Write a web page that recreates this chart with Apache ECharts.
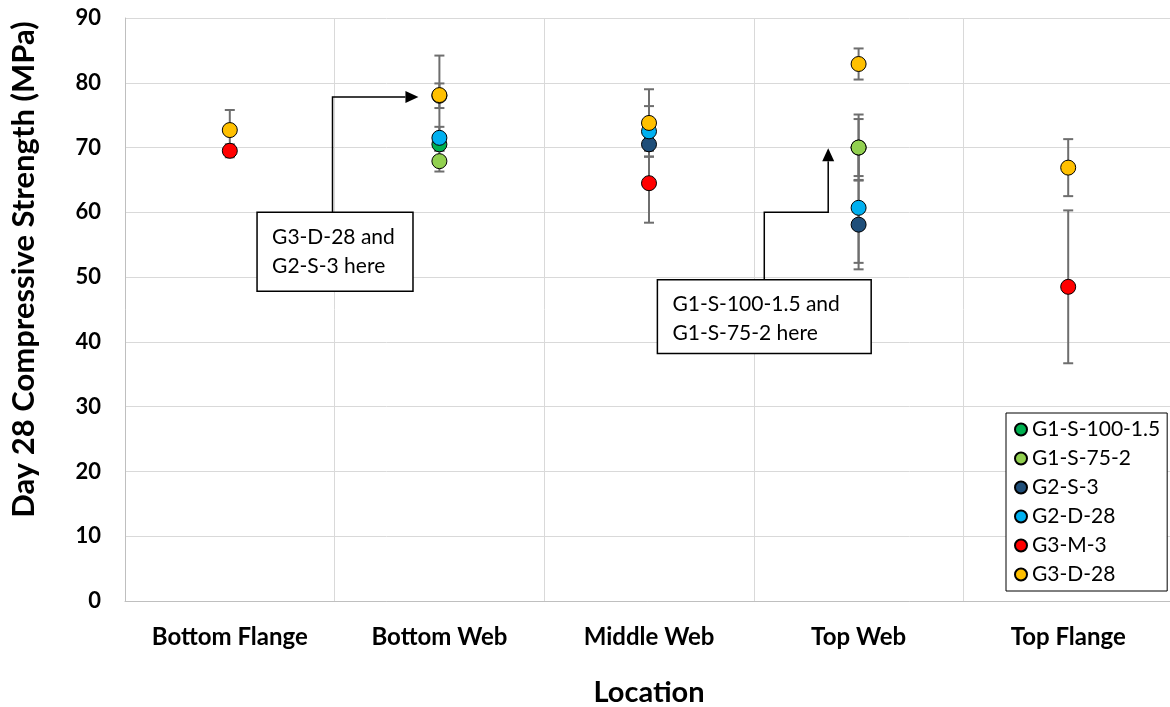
<!DOCTYPE html>
<html>
<head>
<meta charset="utf-8">
<script src="https://cdn.jsdelivr.net/npm/echarts@6/dist/echarts.min.js"></script>
<style>html,body{margin:0;padding:0;background:#fff}#c{width:1170px;height:707px}</style>
</head>
<body>
<div id="c"></div>
<script>
// ---- data ----
const categories = ['Bottom Flange', 'Bottom Web', 'Middle Web', 'Top Web', 'Top Flange'];
const seriesNames = ['G1-S-100-1.5', 'G1-S-75-2', 'G2-S-3', 'G2-D-28', 'G3-M-3', 'G3-D-28'];
const seriesColors = ['#00B050', '#92D050', '#1F4E79', '#00B0F0', '#FF0000', '#FFC000'];
// mean strength (MPa) per location, null = not tested
const g1s100Mean = [null, 70.5, null, 70.0, null];
const g1s75Mean  = [null, 67.9, null, 70.0, null];
const g2s3Mean   = [null, 78.0, 70.5, 58.1, null];
const g2d28Mean  = [null, 71.5, 72.5, 60.7, null];
const g3m3Mean   = [69.5, null, 64.5, null, 48.5];
const g3d28Mean  = [72.7, 78.1, 73.8, 82.9, 66.9];
// error bar half-length (MPa)
const g1s100Err = [null, 1.0, null, 4.4, null];
const g1s75Err  = [null, 1.6, null, 5.1, null];
const g2s3Err   = [null, 1.9, 1.0, 6.9, null];
const g2d28Err  = [null, 1.7, 3.9, 8.5, null];
const g3m3Err   = [1.0, null, 6.1, null, 11.8];
const g3d28Err  = [3.1, 6.1, 5.2, 2.4, 4.4];
const yTicks = [0, 10, 20, 30, 40, 50, 60, 70, 80, 90];
const note1 = 'G3-D-28 and\nG2-S-3 here';
const note2 = 'G1-S-100-1.5 and\nG1-S-75-2 here';

const means = [g1s100Mean, g1s75Mean, g2s3Mean, g2d28Mean, g3m3Mean, g3d28Mean];
const errs = [g1s100Err, g1s75Err, g2s3Err, g2d28Err, g3m3Err, g3d28Err];

const FONT = 'Lato, "Open Sans", sans-serif';
const chart = echarts.init(document.getElementById('c'));

const series = [];
means.forEach((arr, s) => {
  const d = [];
  arr.forEach((v, i) => { if (v != null) d.push([i, v, errs[s][i]]); });
  series.push({
    name: seriesNames[s] + ' err',
    type: 'custom',
    z: 2,
    silent: true,
    data: d,
    encode: { x: 0, y: 1 },
    renderItem: function (params, api) {
      const x = api.value(0), m = api.value(1), e = api.value(2);
      const t = api.coord([x, m + e]);
      const b = api.coord([x, m - e]);
      const hw = 5;
      const st = { stroke: '#6e6e6e', lineWidth: 2 };
      return {
        type: 'group',
        children: [
          { type: 'line', shape: { x1: t[0], y1: t[1], x2: b[0], y2: b[1] }, style: st },
          { type: 'line', shape: { x1: t[0] - hw, y1: t[1], x2: t[0] + hw, y2: t[1] }, style: st },
          { type: 'line', shape: { x1: b[0] - hw, y1: b[1], x2: b[0] + hw, y2: b[1] }, style: st }
        ]
      };
    }
  });
});
means.forEach((arr, s) => {
  const d = [];
  arr.forEach((v, i) => { if (v != null) d.push([i, v]); });
  series.push({
    name: seriesNames[s],
    type: 'scatter',
    z: 3,
    symbol: 'circle',
    symbolSize: 15,
    itemStyle: { color: seriesColors[s], borderColor: '#000', borderWidth: 1, opacity: 1 },
    data: d
  });
});

chart.setOption({
  animation: false,
  textStyle: { fontFamily: FONT },
  grid: { left: 125, right: -3, top: 18, bottom: 106, containLabel: false, outerBoundsMode: 'none' },
  xAxis: {
    type: 'category',
    data: categories,
    boundaryGap: true,
    axisLine: { show: true, lineStyle: { color: '#bfbfbf', width: 1 } },
    axisTick: { show: false },
    splitLine: { show: true, lineStyle: { color: '#d9d9d9', width: 1 } },
    axisLabel: { color: '#000', fontWeight: 'bold', fontSize: 24, margin: 24, fontFamily: FONT },
    name: 'Location',
    nameLocation: 'middle',
    nameGap: 77,
    nameTextStyle: { color: '#000', fontWeight: 'bold', fontSize: 29, fontFamily: FONT }
  },
  yAxis: {
    type: 'value',
    min: yTicks[0],
    max: yTicks[yTicks.length - 1],
    interval: yTicks[1] - yTicks[0],
    axisLine: { show: true, lineStyle: { color: '#bfbfbf', width: 1 } },
    axisTick: { show: false },
    splitLine: { show: true, lineStyle: { color: '#d9d9d9', width: 1 } },
    axisLabel: { color: '#000', fontWeight: 'bold', fontSize: 22, margin: 24, fontFamily: FONT },
    name: 'Day 28 Compressive Strength (MPa)',
    nameLocation: 'middle',
    nameGap: 86,
    nameTextStyle: { color: '#000', fontWeight: 'bold', fontSize: 31, fontFamily: FONT, padding: [0, 0, 0, 80] }
  },
  legend: {
    data: seriesNames,
    orient: 'vertical',
    left: 1006,
    top: 413,
    padding: [6, 7, 6, 8],
    itemGap: 8,
    itemWidth: 12,
    itemHeight: 12,
    icon: 'circle',
    borderColor: '#000',
    borderWidth: 1,
    backgroundColor: '#fff',
    textStyle: { color: '#000', fontSize: 21, fontFamily: FONT, lineHeight: 20 }
  },
  series: series
});

// ---- annotations anchored to data space ----
function px(ci) {
  const a = chart.convertToPixel({ xAxisIndex: 0 }, 0);
  const b = chart.convertToPixel({ xAxisIndex: 0 }, 1);
  return a + (b - a) * ci;
}
function py(v) { return chart.convertToPixel({ yAxisIndex: 0 }, v); }

const notes = [
  { text: note1, box: [0.13, 0.874, 60.0, 47.8], path: [[0.49, 60.0], [0.49, 77.8], [0.90, 77.8]] },
  { text: note2, box: [2.04, 3.06, 49.6, 38.2], path: [[2.55, 49.6], [2.55, 60.0], [2.855, 60.0], [2.855, 69.9]] }
];
const graphics = [];
notes.forEach(n => {
  const x0 = px(n.box[0]), x1 = px(n.box[1]), y0 = py(n.box[2]), y1 = py(n.box[3]);
  const pts = n.path.map(p => [px(p[0]), py(p[1])]);
  const L = pts.length;
  const tip = pts[L - 1], prev = pts[L - 2];
  const dx = tip[0] - prev[0], dy = tip[1] - prev[1];
  const len = Math.sqrt(dx * dx + dy * dy);
  const ux = dx / len, uy = dy / len;
  const al = 13, aw = 6;
  const base = [tip[0] - ux * al, tip[1] - uy * al];
  const linePts = pts.slice(0, L - 1).concat([base]);
  graphics.push({
    type: 'polyline', z: 10, shape: { points: linePts },
    style: { stroke: '#000', lineWidth: 1.5, fill: null }
  });
  graphics.push({
    type: 'polygon', z: 10,
    shape: { points: [tip, [base[0] - uy * aw, base[1] + ux * aw], [base[0] + uy * aw, base[1] - ux * aw]] },
    style: { fill: '#000' }
  });
  graphics.push({
    type: 'rect', z: 10,
    shape: { x: x0, y: y0, width: x1 - x0, height: y1 - y0 },
    style: { fill: '#fff', stroke: '#000', lineWidth: 1.5 }
  });
  graphics.push({
    type: 'text', z: 11, x: x0 + 15, y: y0 + 10,
    style: { text: n.text, fill: '#000', font: '21px ' + FONT, lineHeight: 29 }
  });
});
chart.setOption({ graphic: graphics });
</script>
</body>
</html>
